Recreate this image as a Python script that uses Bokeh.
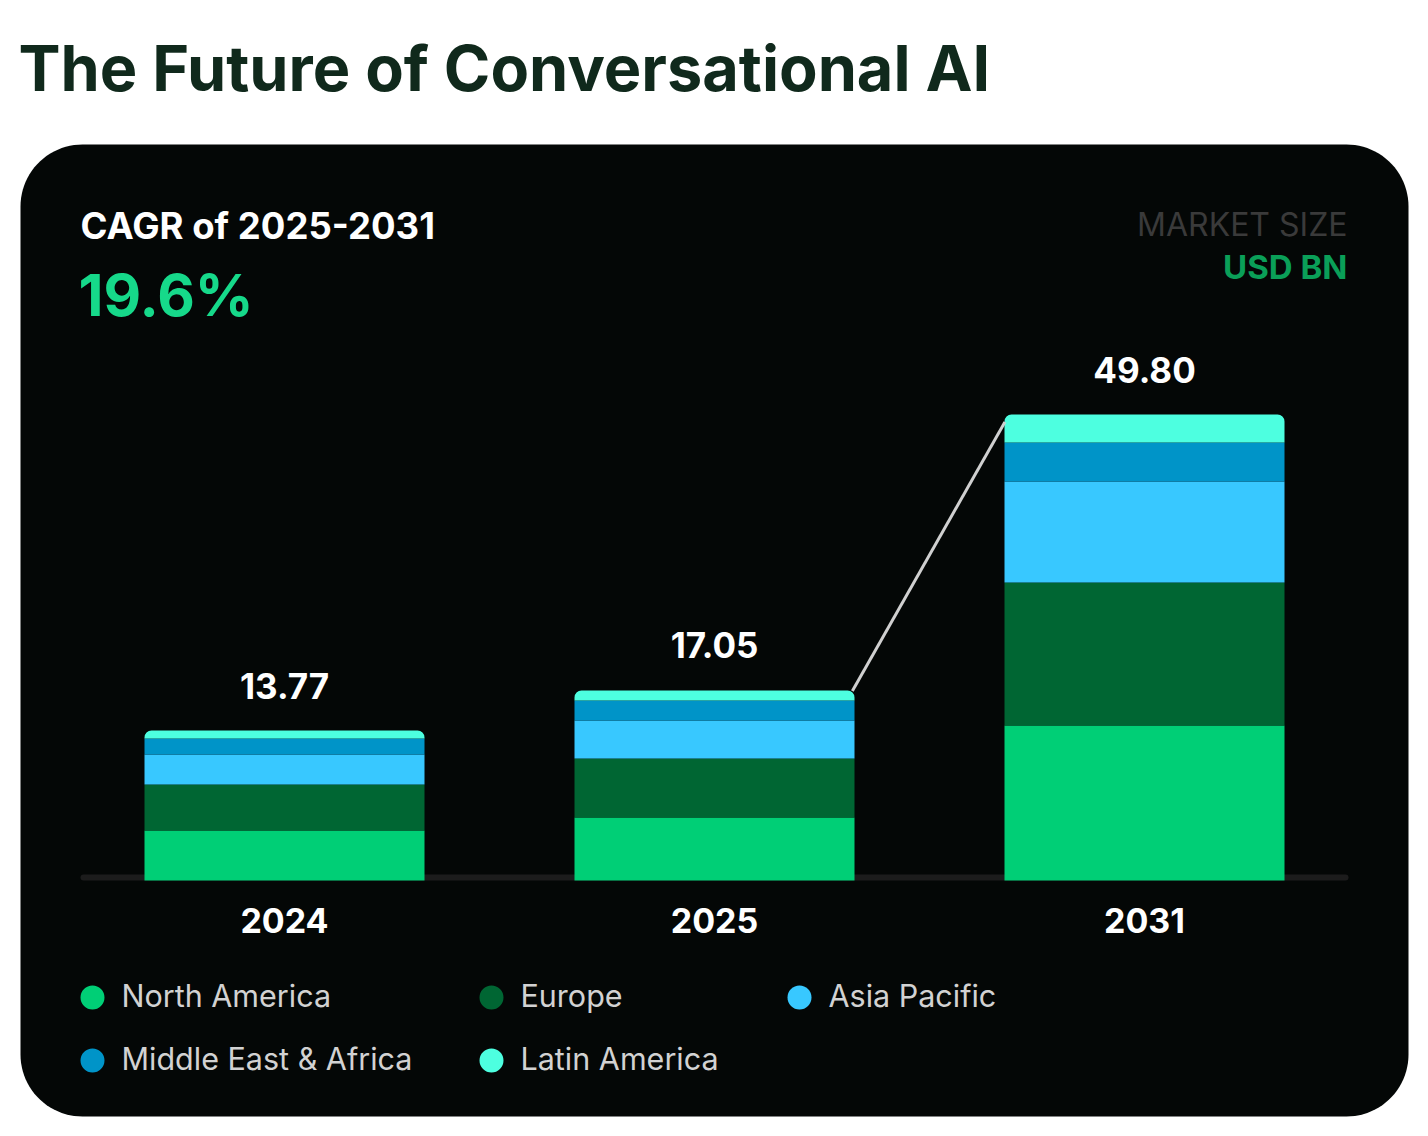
import numpy as np
from bokeh.plotting import figure
from bokeh.models import Range1d, Label, ColumnDataSource
from bokeh.core.properties import value
from bokeh.embed import file_html
from bokeh.resources import INLINE

# ---------------- data ----------------
years = ["2024", "2025", "2031"]
totals_label = ["13.77", "17.05", "49.80"]
regions = ["North America", "Europe", "Asia Pacific", "Middle East & Africa", "Latin America"]
north_america = [5.34, 6.73, 16.57]
europe = [4.92, 6.31, 15.28]
asia_pacific = [3.21, 4.06, 10.79]
middle_east_africa = [1.71, 2.14, 4.17]
latin_america = [0.85, 1.07, 2.99]
colors = ["#00cf76", "#006633", "#38c8ff", "#0094c8", "#4dffe0"]
title_text = "The Future of Conversational AI"
cagr_label = "CAGR of 2025-2031"
cagr_value = "19.6%"
unit_top = "MARKET SIZE"
unit_bottom = "USD BN"

# ---------------- layout helpers (pixel -> data) ----------------
W, H = 1428, 1136
BASE_PX = 880
PXU = 466 / 49.8          # pixels per USD BN
X0_PX, STEP_PX = 284, 430  # first bar centre, bar spacing
BL = 0.4                   # baseline compensation (fraction of font size)


def X(px):
    return (px - X0_PX) / STEP_PX


def Y(py):
    return (BASE_PX - py) / PXU


def YB(py, fs):
    return Y(py - BL * fs)


FONT = "Inter"

p = figure(width=W, height=H, output_backend="svg", toolbar_location=None,
           x_range=Range1d(X(0), X(W)), y_range=Range1d(Y(H), Y(0)),
           min_border=0, background_fill_color="white", border_fill_color="white",
           outline_line_color=None)
p.axis.visible = False
p.grid.visible = False

# ---------------- card (rounded rectangle) ----------------
def rounded_rect(l, t, r, b, rad, n=24):
    xs, ys = [], []
    corners = [(r - rad, t + rad, -90, 0), (r - rad, b - rad, 0, 90),
               (l + rad, b - rad, 90, 180), (l + rad, t + rad, 180, 270)]
    for cx, cy, a0, a1 in corners:
        for a in np.linspace(np.radians(a0), np.radians(a1), n):
            xs.append(X(cx + rad * np.cos(a)))
            ys.append(Y(cy + rad * np.sin(a)))
    return xs, ys

cx, cy = rounded_rect(20, 144, 1408, 1116, 62)
p.patch(cx, cy, fill_color="#040706", line_color=None)

# baseline
p.line([X(83), X(1345)], [Y(877), Y(877)], line_color="#1c1c1c", line_width=6, line_cap="round")

# ---------------- stacked bars ----------------
xs = list(range(len(years)))
src = ColumnDataSource(dict(x=xs, **{
    "North America": north_america, "Europe": europe, "Asia Pacific": asia_pacific,
    "Middle East & Africa": middle_east_africa, "Latin America": latin_america}))
bar_w = 280 / STEP_PX
rs = p.vbar_stack(regions, x="x", width=bar_w, color=colors, line_color=None, source=src)
try:
    rs[-1].glyph.border_radius = (7, 7, 0, 0)
except Exception:
    pass

totals = [sum(v) for v in zip(north_america, europe, asia_pacific, middle_east_africa, latin_america)]

# connector line between 2025 and 2031 tops
p.line([xs[1] + bar_w / 2 - 0.005, xs[2] - bar_w / 2 + 0.001], [totals[1] - 0.05, totals[2] - 0.8],
       line_color="#d0d0d0", line_width=3)

# value labels
FS_VAL = 35
p.text(x=xs, y=[t + (31 + BL * FS_VAL) / PXU for t in totals], text=totals_label, text_align="center",
       text_baseline="alphabetic", text_color="white", text_font=value(FONT),
       text_font_style="bold", text_font_size=f"{FS_VAL}px")

# year labels
FS_YEAR = 34
p.text(x=xs, y=[YB(934, FS_YEAR)] * len(xs), text=years, text_align="center",
       text_baseline="alphabetic", text_color="white", text_font=value(FONT),
       text_font_style="bold", text_font_size=f"{FS_YEAR}px")

# ---------------- legend ----------------
FS_LEG = 30.5
leg_dot_x = [92, 491, 799, 92, 491]
leg_row_y = [997, 997, 997, 1060, 1060]
p.scatter([X(v) for v in leg_dot_x], [Y(v) for v in leg_row_y], size=24, marker="circle",
          fill_color=colors, line_color=None)
p.text(x=[X(v + 29) for v in leg_dot_x], y=[YB(v + 10, FS_LEG) for v in leg_row_y], text=regions,
       text_align="left", text_baseline="alphabetic", text_color="#d2d2d2",
       text_font=value(FONT), text_font_size=f"{FS_LEG}px")

# ---------------- texts ----------------
p.add_layout(Label(x=X(18), y=YB(93, 63), text=title_text, text_font=FONT, text_font_style="bold",
                   text_font_size="63px", text_color="#10291c", text_baseline="alphabetic"))
p.add_layout(Label(x=X(80), y=YB(240, 36.5), text=cagr_label, text_font=FONT, text_font_style="bold",
                   text_font_size="36.5px", text_color="white", text_baseline="alphabetic"))
p.add_layout(Label(x=X(78), y=YB(318, 58), text=cagr_value, text_font=FONT, text_font_style="bold",
                   text_font_size="58px", text_color="#16d98a", text_baseline="alphabetic"))
p.add_layout(Label(x=X(1347), y=YB(237, 32), text=unit_top, text_font=FONT,
                   text_font_size="32px", text_color="#3a3a3a", text_baseline="alphabetic",
                   text_align="right"))
p.add_layout(Label(x=X(1347), y=YB(280, 33), text=unit_bottom, text_font=FONT, text_font_style="bold",
                   text_font_size="33px", text_color="#0a9f58", text_baseline="alphabetic",
                   text_align="right"))

open("out.html", "w").write(file_html(p, INLINE))
